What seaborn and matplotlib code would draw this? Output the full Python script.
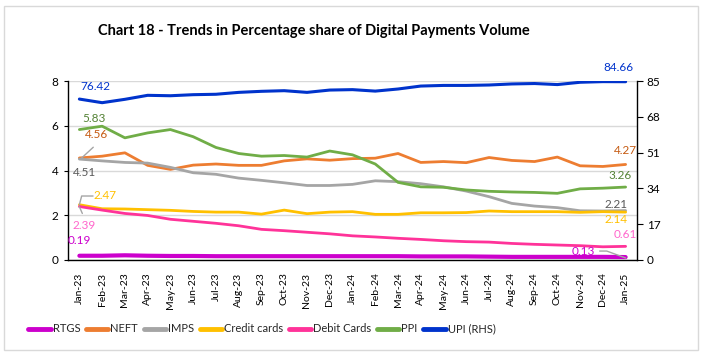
import matplotlib
matplotlib.use("Agg")
import matplotlib.pyplot as plt
import seaborn as sns
import pandas as pd
from matplotlib.lines import Line2D
from matplotlib.patches import Rectangle

months = ["Jan-23", "Feb-23", "Mar-23", "Apr-23", "May-23", "Jun-23", "Jul-23", "Aug-23",
          "Sep-23", "Oct-23", "Nov-23", "Dec-23", "Jan-24", "Feb-24", "Mar-24", "Apr-24",
          "May-24", "Jun-24", "Jul-24", "Aug-24", "Sep-24", "Oct-24", "Nov-24", "Dec-24", "Jan-25"]

rtgs = [0.19, 0.19, 0.21, 0.19, 0.18, 0.18, 0.17, 0.17, 0.17, 0.17, 0.17, 0.17, 0.17,
        0.17, 0.17, 0.16, 0.16, 0.16, 0.15, 0.14, 0.14, 0.14, 0.14, 0.14, 0.13]
neft = [4.56, 4.64, 4.79, 4.23, 4.05, 4.24, 4.29, 4.23, 4.23, 4.43, 4.52, 4.46, 4.53,
        4.55, 4.76, 4.36, 4.40, 4.35, 4.58, 4.45, 4.40, 4.60, 4.21, 4.18, 4.27]
imps = [4.51, 4.43, 4.36, 4.33, 4.14, 3.90, 3.83, 3.66, 3.56, 3.45, 3.33, 3.33, 3.38,
        3.54, 3.50, 3.41, 3.27, 3.08, 2.83, 2.53, 2.41, 2.34, 2.20, 2.19, 2.21]
credit = [2.47, 2.29, 2.28, 2.25, 2.22, 2.17, 2.14, 2.14, 2.05, 2.23, 2.07, 2.14, 2.16,
          2.04, 2.04, 2.11, 2.11, 2.12, 2.19, 2.16, 2.16, 2.16, 2.13, 2.16, 2.14]
debit = [2.39, 2.23, 2.08, 1.99, 1.82, 1.73, 1.64, 1.53, 1.37, 1.31, 1.24, 1.17, 1.08,
         1.03, 0.97, 0.92, 0.86, 0.82, 0.80, 0.74, 0.70, 0.67, 0.64, 0.59, 0.61]
ppi = [5.83, 5.98, 5.46, 5.68, 5.83, 5.51, 5.03, 4.76, 4.64, 4.67, 4.60, 4.87, 4.70,
       4.29, 3.47, 3.27, 3.25, 3.13, 3.07, 3.04, 3.02, 2.98, 3.18, 3.21, 3.26]
upi = [76.42, 74.7, 76.3, 78.2, 78.0, 78.5, 78.7, 79.6, 80.1, 80.4, 79.6, 80.7, 80.9,
       80.2, 81.2, 82.6, 82.9, 82.9, 83.1, 83.6, 83.8, 83.3, 84.4, 84.7, 84.66]

left_ticks = [0, 2, 4, 6, 8]
right_ticks = [0, 17, 34, 51, 68, 85]

series = {"RTGS": rtgs, "NEFT": neft, "IMPS": imps, "Credit cards": credit,
          "Debit Cards": debit, "PPI": ppi}
colors = {"RTGS": "#CC00CC", "NEFT": "#ED7D31", "IMPS": "#A5A5A5",
          "Credit cards": "#FFC000", "Debit Cards": "#FF3399", "PPI": "#70AD47",
          "UPI (RHS)": "#0033CC"}
widths = {"RTGS": 3.0, "NEFT": 2.0, "IMPS": 2.0, "Credit cards": 2.0,
          "Debit Cards": 2.0, "PPI": 2.0, "UPI (RHS)": 2.2}

sns.set_theme(style="white")
plt.rcParams["font.family"] = ["Lato", "DejaVu Sans"]

fig = plt.figure(figsize=(7.03, 3.57), dpi=100)
ax = fig.add_axes([68 / 703, 1 - 260 / 357, (637 - 68) / 703, (260 - 81) / 357])
ax2 = ax.twinx()

xs = list(range(len(months)))
for name, vals in series.items():
    df = pd.DataFrame({"x": xs, "y": vals})
    sns.lineplot(data=df, x="x", y="y", ax=ax, color=colors[name],
                 linewidth=widths[name], zorder=3)
df_u = pd.DataFrame({"x": xs, "y": upi})
sns.lineplot(data=df_u, x="x", y="y", ax=ax2, color=colors["UPI (RHS)"],
             linewidth=widths["UPI (RHS)"])

ax.set_xlim(-0.5, len(months) - 0.5)
ax.set_ylim(0, 8)
ax2.set_ylim(0, 85)
ax.set_yticks(left_ticks)
ax.set_yticklabels([str(t) for t in left_ticks])
ax2.set_yticks(right_ticks)
ax2.set_yticklabels([str(t) for t in right_ticks])
ax.set_xticks(xs)
ax.set_xticklabels(months, rotation=90)
ax.set_xlabel("")
ax.set_ylabel("")
ax2.set_xlabel("")
ax2.set_ylabel("")

ax.grid(axis="y", color="#D9D9D9", linewidth=1)
ax.grid(axis="x", visible=False)
ax2.grid(False)
ax.set_axisbelow(True)

for a in (ax, ax2):
    for s in a.spines.values():
        s.set_visible(False)
ax.spines["left"].set_visible(True)
ax.spines["bottom"].set_visible(True)
ax2.spines["right"].set_visible(True)
for sp in (ax.spines["left"], ax.spines["bottom"], ax2.spines["right"]):
    sp.set_color("black")
    sp.set_linewidth(1)

ax.tick_params(axis="y", which="both", left=True, length=3, width=0.8, color="black",
               labelsize=8.5, pad=4, labelcolor="#000000")
ax.tick_params(axis="x", bottom=False, labelsize=7.5, pad=3, labelcolor="#000000")
ax2.tick_params(axis="y", right=True, length=4, width=0.8, color="black",
                labelsize=8.5, pad=3, labelcolor="#000000")

# data labels
lbl_fs = 8.5
def lab(a, x, y, t, c):
    a.text(x, y, t, color=c, fontsize=lbl_fs, ha="center", va="center", clip_on=False, zorder=5)

lab(ax2, 0.70, 82.6, "76.42", "#0033CC")
lab(ax, 0.66, 6.34, "5.83", "#548235")
lab(ax, 0.74, 5.63, "4.56", "#C55A11")
lab(ax, 0.22, 3.93, "4.51", "#595959")
lab(ax, 1.14, 2.90, "2.47", "#FFC000")
lab(ax, 0.22, 1.56, "2.39", "#FF66CC")
lab(ax, 0.0, 0.85, "0.19", "#CC00CC")
lab(ax2, 23.7, 91.6, "84.66", "#0033CC")
lab(ax, 24.0, 4.91, "4.27", "#C55A11")
lab(ax, 23.74, 3.79, "3.26", "#548235")
lab(ax, 23.57, 2.50, "2.21", "#595959")
lab(ax, 23.57, 1.79, "2.14", "#FFC000")
lab(ax, 24.0, 1.16, "0.61", "#FF66CC")
lab(ax, 22.16, 0.40, "0.13", "#CC00CC")

lc = "#A5A5A5"
ax.plot([0.09, 0.61], [4.55, 5.04], color=lc, lw=1, zorder=4, clip_on=False)
ax.plot([0.6, 0.1, 0.0], [2.86, 2.86, 2.47], color=lc, lw=1, zorder=4, clip_on=False)
ax.plot([0.0, 0.13], [2.38, 2.08], color=lc, lw=1, zorder=4, clip_on=False)
ax.plot([22.86, 23.17, 24.0], [0.40, 0.40, 0.09], color=lc, lw=1, zorder=4, clip_on=False)

# title
fig.text(314 / 703, 1 - 31 / 357, "Chart 18 - Trends in Percentage share of Digital Payments Volume",
         ha="center", va="center", fontsize=10.5, fontweight="bold", color="black")

# legend
names = list(series.keys()) + ["UPI (RHS)"]
handles = [Line2D([0], [0], color=colors[n], lw=3.5) for n in names]
fig.legend(handles, names, loc="center", bbox_to_anchor=(262 / 703, 1 - 329 / 357),
           ncol=7, frameon=False, handlelength=2.0, handletextpad=0.2,
           columnspacing=0.5, prop={"family": ["Lato"], "size": 8})

# outer border
fig.patches.append(Rectangle((4 / 703, 1 - 350 / 357), 694 / 703, 344 / 357,
                             transform=fig.transFigure, fill=False, edgecolor="#D9D9D9",
                             linewidth=1))

fig.savefig("out.png", dpi=100)
